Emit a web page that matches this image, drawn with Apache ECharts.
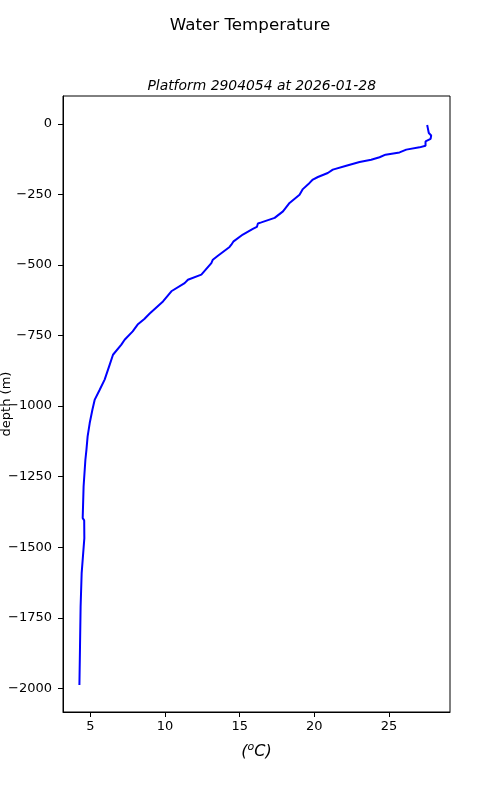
<!DOCTYPE html>
<html>
<head>
<meta charset="utf-8">
<script src="https://cdn.jsdelivr.net/npm/echarts@6/dist/echarts.min.js"></script>
<style>html,body{margin:0;padding:0;background:#fff}#c{width:500px;height:800px}</style>
</head>
<body>
<div id="c"></div>
<script>
const depth = [-4,-14,-32,-41,-53,-62,-67,-77,-83,-91,-101,-109,-118,-127,-135,-148,-162,-174,-188,-197,-209,-231,-251,-280,-310,-333,-349,-353,-365,-372,-392,-416,-428,-436,-467,-481,-493,-534,-552,-564,-593,-629,-672,-691,-711,-735,-765,-782,-818,-853,-906,-942,-978,-1013,-1060,-1107,-1155,-1190,-1285,-1397,-1405,-1468,-1592,-1710,-1852,-1988];
const temperature = [27.56,27.6,27.67,27.83,27.79,27.45,27.39,27.45,27.05,26.16,25.71,24.77,24.37,23.81,23.03,22.14,21.24,20.9,20.24,19.9,19.68,19.23,19.01,18.34,17.9,17.34,16.45,16.22,16.15,15.88,15.21,14.59,14.44,14.32,13.54,13.2,13.1,12.43,11.53,11.31,10.42,9.86,8.97,8.61,8.16,7.83,7.29,7.07,6.51,6.29,5.95,5.62,5.28,5.13,4.95,4.81,4.73,4.66,4.54,4.48,4.58,4.59,4.41,4.34,4.30,4.26];
const xTicks = [5,10,15,20,25];
const yTicks = [-2000,-1750,-1500,-1250,-1000,-750,-500,-250,0];
const titleText = 'Water Temperature';
const subtitleText = 'Platform 2904054 at 2026-01-28';

const font = 'DejaVu Sans';
const pts = depth.map((d,i)=>[temperature[i], d]);
const chart = echarts.init(document.getElementById('c'), null, {renderer:'canvas'});
chart.setOption({
  animation:false,
  backgroundColor:'#fff',
  title:[
    {text:titleText, left:'center', top:12, textStyle:{fontFamily:font,fontSize:16.7,fontWeight:'normal',color:'#000'}},
    {text:subtitleText, left:256.7, textAlign:'center', top:74, textStyle:{fontFamily:font,fontSize:13.9,fontStyle:'italic',fontWeight:'normal',color:'#000'}}
  ],
  grid:{left:63,right:50,top:96,bottom:88,show:true,borderColor:'#000',borderWidth:1,backgroundColor:'transparent',containLabel:false,outerBoundsMode:'none'},
  xAxis:{
    type:'value', min:3.16, max:29.09,
    splitLine:{show:false},
    axisLine:{show:true,onZero:false,lineStyle:{color:'#000',width:1}},
    axisTick:{show:true,customValues:xTicks,length:5,lineStyle:{color:'#000'}},
    axisLabel:{customValues:xTicks,margin:8,color:'#000',fontFamily:font,fontSize:13},
    name:'{p|(}{s|o}{p|C)}', nameLocation:'middle', nameGap:30, nameMoveOverlap:false,
    nameTextStyle:{rich:{p:{fontFamily:font,fontSize:16,fontStyle:'italic',color:'#000'},s:{fontFamily:font,fontSize:11,fontStyle:'italic',color:'#000',verticalAlign:'top',padding:[0,0,8,0]}}}
  },
  yAxis:{
    type:'value', min:-2084, max:99,
    splitLine:{show:false},
    axisLine:{show:true,onZero:false,lineStyle:{color:'#000',width:1}},
    axisTick:{show:true,customValues:yTicks,length:5,lineStyle:{color:'#000'}},
    axisLabel:{customValues:yTicks,margin:11,color:'#000',fontFamily:font,fontSize:13,
      formatter:v=> v<0 ? '\u2212'+Math.abs(v) : String(v)},
    name:'depth (m)', nameLocation:'middle', nameGap:50, nameRotate:90, nameMoveOverlap:false,
    nameTextStyle:{fontFamily:font,fontSize:13,color:'#000'}
  },
  series:[{type:'line', data:pts, showSymbol:false, symbol:'none', lineStyle:{color:'#0000ff',width:2}, itemStyle:{color:'#0000ff'}}]
});
</script>
</body>
</html>
